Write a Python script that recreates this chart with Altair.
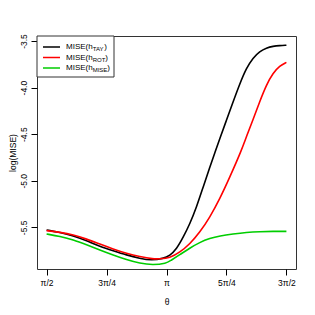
import altair as alt
import pandas as pd

# theta expressed in units of pi
t_black = [0.5, 0.5554, 0.6108, 0.6667, 0.7221, 0.7775, 0.8333, 0.8888, 0.9375, 0.9858, 1.0138,
           1.0417, 1.0692, 1.0971, 1.125, 1.1525, 1.1804, 1.2013, 1.2221, 1.25, 1.2775, 1.3054,
           1.3333, 1.3608, 1.3888, 1.4167, 1.4442, 1.4721, 1.5]
v_black = [-5.528, -5.554, -5.589, -5.643, -5.704, -5.751, -5.797, -5.833, -5.855, -5.835, -5.804,
           -5.732, -5.608, -5.464, -5.285, -5.07, -4.855, -4.70, -4.55, -4.35, -4.155, -3.96,
           -3.79, -3.68, -3.61, -3.573, -3.556, -3.548, -3.545]

t_red = [0.5, 0.5554, 0.6108, 0.6667, 0.7221, 0.7775, 0.8333, 0.8888, 0.9442, 0.9721, 1.0138,
         1.0554, 1.0971, 1.1388, 1.1804, 1.2221, 1.2638, 1.3125, 1.3333, 1.3608, 1.3888, 1.4167,
         1.4442, 1.4721, 1.5]
v_red = [-5.535, -5.552, -5.578, -5.625, -5.68, -5.732, -5.78, -5.815, -5.84, -5.838, -5.829,
         -5.769, -5.679, -5.554, -5.393, -5.195, -4.962, -4.675, -4.525, -4.345, -4.148, -3.969,
         -3.844, -3.765, -3.729]

t_green = [0.5, 0.5554, 0.6108, 0.6667, 0.7221, 0.7775, 0.8333, 0.8888, 0.9442, 1.0, 1.0138,
           1.0554, 1.0971, 1.1388, 1.1804, 1.2221, 1.2775, 1.3333, 1.3888, 1.4442, 1.5]
v_green = [-5.571, -5.597, -5.632, -5.686, -5.743, -5.797, -5.847, -5.887, -5.904, -5.885, -5.862,
           -5.794, -5.722, -5.661, -5.618, -5.592, -5.571, -5.554, -5.546, -5.543, -5.543]

x_ticks = [0.5, 0.75, 1.0, 1.25, 1.5]
x_tick_labels = ["π/2", "3π/4", "π", "5π/4", "3π/2"]
y_ticks = [-5.5, -5.0, -4.5, -4.0, -3.5]

legend_main = "MISE(h"
legend_subs = ["TAY", "ROT", "MISE"]
colors = ["#000000", "#FF0000", "#00CD00"]

FONT = "Liberation Sans"
W, H = 259, 233

label_expr = " : ".join(
    f"datum.value == {v} ? '{l}'" for v, l in zip(x_ticks, x_tick_labels)
) + " : ''"

xscale = alt.Scale(domain=[0.46, 1.54], nice=False, zero=False)
yscale = alt.Scale(domain=[-5.947, -3.446], nice=False, zero=False)

xaxis = alt.Axis(values=x_ticks, labelExpr=label_expr, domain=False, grid=False,
                 tickSize=6, tickColor="#000", labelFont=FONT, labelFontSize=8.5,
                 labelColor="#000", labelPadding=3, title="θ", titleFont=FONT,
                 titleFontSize=8.5, titleFontWeight="normal", titleColor="#000",
                 titleX=W / 2, titleY=32, titleBaseline="middle")
yaxis = alt.Axis(values=y_ticks, labelExpr="replace(format(datum.value, '.1f'), '−', '-')",
                 domain=False, grid=False, tickSize=6, tickColor="#000", labelFont=FONT,
                 labelFontSize=8.5, labelColor="#000", labelAngle=270, labelAlign="center",
                 labelBaseline="bottom", labelPadding=3, title="log(MISE)", titleFont=FONT,
                 titleFontSize=8.5, titleFontWeight="normal", titleColor="#000",
                 titleAngle=270, titleX=-24.5, titleY=H / 2, titleBaseline="middle",
                 titleAlign="center")

rows = []
for name, t, v in (("TAY", t_black, v_black), ("ROT", t_red, v_red), ("MISE", t_green, v_green)):
    rows += [{"series": name, "t": a, "v": b} for a, b in zip(t, v)]
df_all = pd.DataFrame(rows)

lines_base = alt.Chart(df_all).encode(
    x=alt.X("t:Q", scale=xscale, axis=xaxis),
    y=alt.Y("v:Q", scale=yscale, axis=yaxis),
)

layers = []
for name, col in zip(legend_subs, colors):
    layers.append(lines_base.transform_filter(alt.datum.series == name).mark_line(
        color=col, strokeWidth=1.6, interpolate="basis"))

# legend (top-left, boxed)
dummy = pd.DataFrame({"a": [0]})
layers.append(alt.Chart(dummy).mark_rect(fill="white", stroke="#333", strokeWidth=1).encode(
    x=alt.value(0), x2=alt.value(77), y=alt.value(0), y2=alt.value(41)))

main_w = 26.7
sub_fs = 6
char_w = {"T": 0.611, "A": 0.667, "Y": 0.667, "R": 0.722, "O": 0.778, "M": 0.833, "I": 0.278,
          "S": 0.667, "E": 0.667}
for i, (sub, col) in enumerate(zip(legend_subs, colors)):
    yc = 11 + i * 10.5
    layers.append(alt.Chart(dummy).mark_rule(color=col, strokeWidth=1.5).encode(
        x=alt.value(6), x2=alt.value(23), y=alt.value(yc)))
    layers.append(alt.Chart(dummy).mark_text(text=legend_main, font=FONT, fontSize=8,
                                             align="left", baseline="middle", color="#000").encode(
        x=alt.value(29), y=alt.value(yc)))
    layers.append(alt.Chart(dummy).mark_text(text=sub, font=FONT, fontSize=sub_fs,
                                             align="left", baseline="middle", color="#000").encode(
        x=alt.value(29 + main_w), y=alt.value(yc + 2)))
    sw = sum(char_w[c] for c in sub) * sub_fs
    layers.append(alt.Chart(dummy).mark_text(text=")", font=FONT, fontSize=8,
                                             align="left", baseline="middle", color="#000").encode(
        x=alt.value(29 + main_w + sw), y=alt.value(yc)))

chart = alt.layer(*layers).properties(
    width=W, height=H,
    autosize=alt.AutoSizeParams(type="none"),
    padding={"left": 29, "top": 28, "right": 10, "bottom": 38},
).configure_view(stroke="#333", strokeWidth=1)

chart.save("out.html", embed_options={"renderer": "svg", "actions": False})
